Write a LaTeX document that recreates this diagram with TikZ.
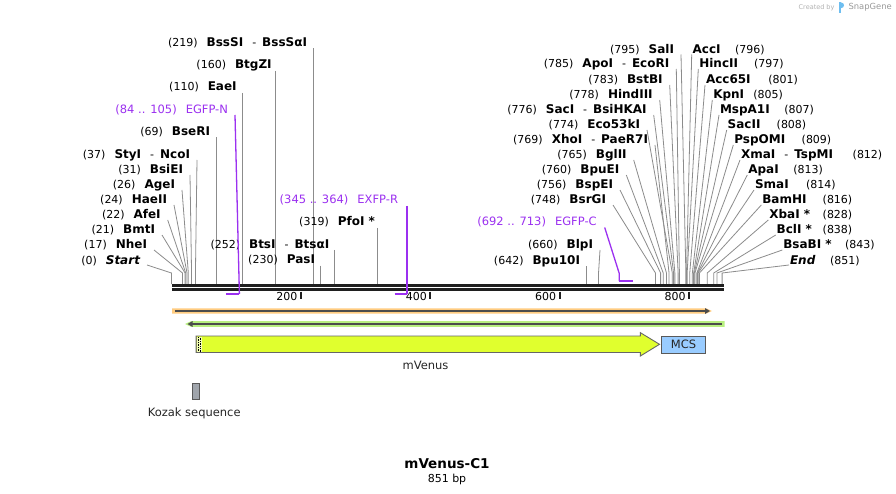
\documentclass[tikz,border=0pt]{standalone}
\usepackage{fontspec}
\setmainfont{DejaVu Sans}
\usetikzlibrary{calc,arrows.meta}
\definecolor{prim}{RGB}{155,48,240}
\definecolor{orfo}{RGB}{255,204,128}
\definecolor{orfg}{RGB}{184,240,128}
\definecolor{venus}{RGB}{224,255,46}
\definecolor{mcsb}{RGB}{153,204,255}
\definecolor{kozk}{RGB}{160,165,172}
\definecolor{sgblue}{RGB}{110,190,240}
\newcommand\B[1]{{\fontsize{12}{14}\selectfont\bfseries #1}}
\newcommand\Dsh{\hspace{9pt}-\hspace{6pt}}
\begin{document}
\begin{tikzpicture}[x=1pt,y=-1pt,
 lab/.style={inner sep=0pt,outer sep=0pt,font=\fontsize{11}{13}\selectfont},
 plab/.style={inner sep=0pt,outer sep=0pt,text=prim,font=\fontsize{11.5}{13}\selectfont},
 leader/.style={draw=black!45,line width=0.8pt},
 pline/.style={draw=prim,line width=1.3pt},
 pbar/.style={draw=prim,line width=2.6pt},
 bb/.style={draw=black!88,line width=2.6pt},
 tick/.style={draw=black!88,line width=1.8pt},
 orfline/.style={draw=black!70,line width=1.6pt,-{Triangle[length=5pt,width=5.5pt]}},
]
\useasboundingbox (0,0) rectangle (896,494);
\fill[white] (0,0) rectangle (896,494);

% ---- left-aligned-to-end labels with slanted leaders
\foreach \nm/\bp/\txt/\ex/\cy in {
 start/0/{(0)\hspace{9pt}\B{\itshape Start}}/140/260,
 nhe/17/{(17)\hspace{9pt}\B{NheI}}/147/245,
 bmt/21/{(21)\hspace{9pt}\B{BmtI}}/155/230,
 afe/22/{(22)\hspace{9pt}\B{AfeI}}/160.7/215,
 hae/24/{(24)\hspace{9pt}\B{HaeII}}/167/200,
 age/26/{(26)\hspace{9pt}\B{AgeI}}/175/185,
 bsie/31/{(31)\hspace{9pt}\B{BsiEI}}/183/170,
 nco/37/{(37)\hspace{9pt}\B{StyI}\Dsh\B{NcoI}}/190/155,
 blp/660/{(660)\hspace{9pt}\B{BlpI}}/593/245,
 bsrg/748/{(748)\hspace{9pt}\B{BsrGI}}/606/200,
 bspe/756/{(756)\hspace{9pt}\B{BspEI}}/613/185,
 bpue/760/{(760)\hspace{9pt}\B{BpuEI}}/619.3/170,
 bgl/765/{(765)\hspace{9pt}\B{BglII}}/626.7/155,
 xho/769/{(769)\hspace{9pt}\B{XhoI}\Dsh\B{PaeR7I}}/648/140,
 ecok/774/{(774)\hspace{9pt}\B{Eco53kI}}/640/125,
 sac/776/{(776)\hspace{9pt}\B{SacI}\Dsh\B{BsiHKAI}}/646.7/110,
 hind/778/{(778)\hspace{9pt}\B{HindIII}}/652.7/95,
 bstb/783/{(783)\hspace{9pt}\B{BstBI}}/662.7/80,
 apo/785/{(785)\hspace{9pt}\B{ApoI}\Dsh\B{EcoRI}}/669.3/64,
 sal/795/{(795)\hspace{9pt}\B{SalI}}/674/49.5}{
 \node[lab,anchor=base east] (\nm) at (\ex,\cy+4) {\txt};
 \pgfmathsetmacro\sx{171.5+0.647*\bp}
 \coordinate (s\nm) at (\sx,284);
 \draw[leader] ($(\nm.base east)+(7,1)$) -- (\sx,273) -- (s\nm);
}

% ---- labels with straight vertical lines
\foreach \nm/\bp/\txt/\ex/\cy in {
 bser/69/{(69)\hspace{9pt}\B{BseRI}}/210/131.5,
 eae/110/{(110)\hspace{9pt}\B{EaeI}}/236.7/87,
 btgz/160/{(160)\hspace{9pt}\B{BtgZI}}/271.7/65,
 bsss/219/{(219)\hspace{9pt}\B{BssSI}\Dsh\B{BssSαI}}/307/42.3,
 pas/230/{(230)\hspace{9pt}\B{PasI}}/315/259.5,
 bts/252/{(252)\hspace{9pt}\B{BtsI}\Dsh\B{BtsαI}}/329.3/244,
 pfo/319/{(319)\hspace{9pt}\B{PfoI *}}/375/222,
 bpu/642/{(642)\hspace{9pt}\B{Bpu10I}}/580/260}{
 \node[lab,anchor=base east] (\nm) at (\ex,\cy+4) {\txt};
 \pgfmathsetmacro\sx{171.5+0.647*\bp}
 \coordinate (s\nm) at (\sx,284);
 \draw[leader] ($(\nm.base east -| s\nm)+(0,2)$) -- (s\nm);
}

% ---- right-hand labels (name then position)
\foreach \nm/\bp/\txt/\sxl/\cy/\numx in {
 acc/796/{\B{AccI}}/692.7/49.5/735,
 hinc/797/{\B{HincII}}/699.3/64/754,
 acck/801/{\B{Acc65I}}/706/80/768.3,
 kpn/805/{\B{KpnI}}/713.3/95/753.3,
 msp/807/{\B{MspA1I}}/720/110/784.3,
 sact/808/{\B{SacII}}/727.7/125/776.7,
 psp/809/{\B{PspOMI}}/734.3/140/801.7,
 xma/812/{\B{XmaI}\Dsh\B{TspMI}}/741/155/852.7,
 apa/813/{\B{ApaI}}/748.3/170/793.3,
 sma/814/{\B{SmaI}}/755/185/806,
 bam/816/{\B{BamHI}}/762.3/200/822.7,
 xba/828/{\B{XbaI *}}/769.3/215/822.7,
 bcl/838/{\B{BclI *}}/776.7/230/822.7,
 bsab/843/{\B{BsaBI *}}/783.3/245/845,
 endl/851/{\B{\itshape End}}/790/260/830}{
 \node[lab,anchor=base west] (\nm) at (\sxl,\cy+4) {\txt};
 \node[lab,anchor=base west] (n\nm) at (\numx,\cy+4) {(\bp)};
 \pgfmathsetmacro\sx{171.5+0.647*\bp}
 \coordinate (s\nm) at (\sx,284);
 \draw[leader] ($(\nm.base west)+(-1,1)$) -- (\sx,273) -- (s\nm);
}

% ---- backbone
\draw[bb] (172,285.3) -- (724,285.3);
\draw[bb] (172,289.6) -- (724,289.6);
\foreach \v in {200,400,600,800}{
 \pgfmathsetmacro\tx{171.5+0.647*\v}
 \coordinate (t\v) at (\tx,291.5);
 \draw[tick] (t\v) -- ++(0,7);
 \node[lab,anchor=base east] (tl\v) at ($(t\v)+(-3.5,9)$) {\v};
}

% ---- primers
\node[plab,anchor=base east] (egfpn) at (228,114) {(84 .. 105)\hspace{9pt}EGFP-N};
\coordinate (pn1) at (225.9,294);
\coordinate (pn2) at (239.4,294);
\draw[pline] ($(egfpn.base east)+(7,1)$) -- (pn2);
\draw[pbar] (pn1) -- (pn2);

\node[plab,anchor=base east] (exfpr) at (398,204) {(345 .. 364)\hspace{9pt}EXFP-R};
\coordinate (pr1) at (394.7,294);
\coordinate (pr2) at (407.0,294);
\draw[pline] ($(exfpr.base east -| pr2)+(0,2)$) -- (pr2);
\draw[pbar] (pr1) -- (pr2);

\node[plab,anchor=base east] (egfpc) at (596.7,225.5) {(692 .. 713)\hspace{9pt}EGFP-C};
\coordinate (pc1) at (619.2,281);
\coordinate (pc2) at (632.8,281);
\draw[pline] ($(egfpc.base east)+(8,2)$) -- (619.2,273.3) -- (pc1);
\draw[pbar] (pc1) -- (pc2);

% ---- ORF tracks
\fill[orfo] (172,308.3) -- (706,308.3) -- (712,311) -- (706,313.7) -- (172,313.7) -- cycle;
\coordinate (oa) at (175,311);
\coordinate (ob) at (710,311);
\draw[orfline] (oa) -- (ob);
\fill[orfg] (185,324) -- (191,321.2) -- (724.5,321.2) -- (724.5,326.8) -- (191,326.8) -- cycle;
\coordinate (ga) at (722,324);
\coordinate (gb) at (187.5,324);
\draw[orfline] (ga) -- (gb);

% ---- features
\draw[draw=black!60,line width=0.9pt,fill=venus] (196,336) -- (640.4,336) -- (640.4,332.7) -- (659.5,344.3) -- (640.4,356) -- (640.4,352.5) -- (196,352.5) -- cycle;
\fill[venus!35] (196.9,336.5) rectangle (201.6,352);
\draw[black,line width=0.7pt,densely dotted] (198.1,336.8) -- (198.1,352);
\draw[black,line width=0.7pt,densely dotted] (200.4,337.6) -- (200.4,352);
\draw[black!60,line width=0.9pt] (196,336) rectangle (196,352.5);
\node[draw=black!65,line width=0.9pt,fill=mcsb,minimum width=44pt,minimum height=16.5pt,inner sep=0pt,anchor=north west,font=\fontsize{11.5}{13}\selectfont,text=black!85] (mcs) at (661,336) {MCS};
\node[lab,anchor=base,font=\fontsize{11.5}{13}\selectfont,text=black!85] (venuslab) at (425.5,369.5) {mVenus};

\node[draw=black!65,line width=0.9pt,fill=kozk,minimum width=6.5pt,minimum height=16pt,inner sep=0pt,anchor=north west] (kozak) at (192.4,383.3) {};
\node[lab,anchor=base,font=\fontsize{11.5}{13}\selectfont,text=black!85] (kozaklab) at (194.2,416.3) {Kozak sequence};

% ---- title
\node[inner sep=0pt,anchor=base,font=\fontsize{13.5}{15}\selectfont\bfseries] (title) at (447,468) {mVenus-C1};
\node[inner sep=0pt,anchor=base,font=\fontsize{11}{13}\selectfont] (bp) at (447,482) {851 bp};

% ---- credit
\node[inner sep=0pt,anchor=base west,font=\fontsize{6.5}{8}\selectfont,text=black!30] (cr) at (798.5,9.5) {Created by};
\fill[sgblue] (838.5,2.5) rectangle (841.2,13);
\fill[sgblue] (841.2,2.5) arc[start angle=90,end angle=-90,radius=2.8pt] -- cycle;
\node[inner sep=0pt,anchor=base west,font=\fontsize{8.4}{10}\selectfont,text=black!40] (sg) at (848.3,10) {SnapGene};
\end{tikzpicture}
\end{document}
